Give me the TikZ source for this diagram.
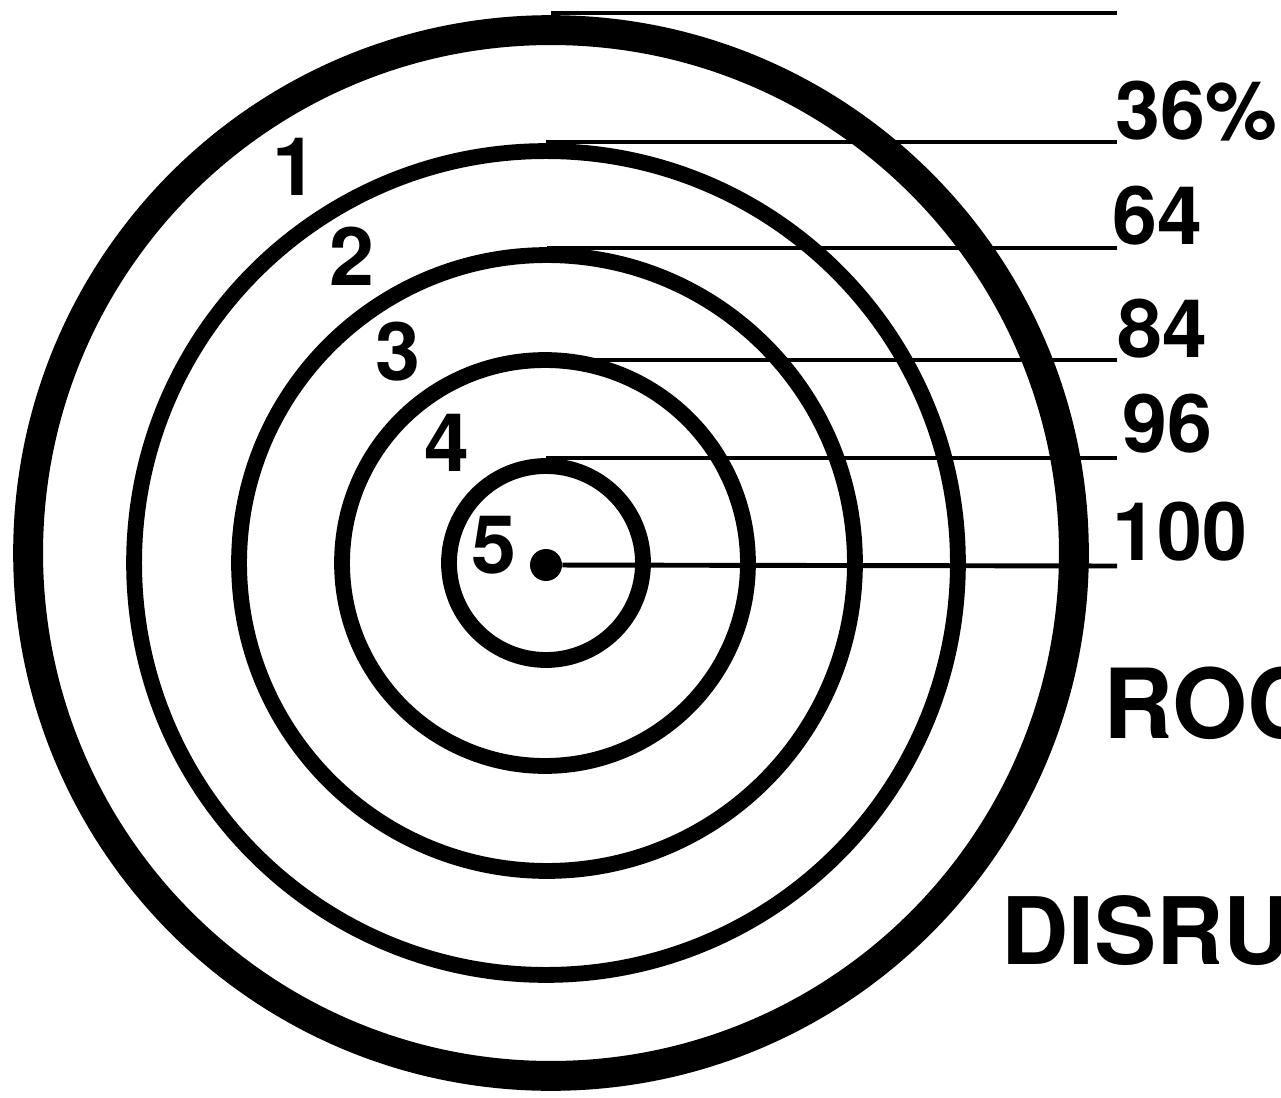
\documentclass[tikz,border=0pt]{standalone}
\usepackage{fontspec}
\setmainfont{TeX Gyre Heros}
\usepackage{tikz}
\usetikzlibrary{positioning}
\tikzstyle{ring} = [circle, draw=black, line width=9pt, inner sep=0pt]
\tikzstyle{rimring} = [ring, line width=17pt]
\tikzstyle{bullseye} = [circle, fill=black, inner sep=0pt, minimum size=0.64cm]
\tikzstyle{leader} = [line width=2.8pt, draw=black]
\tikzstyle{zonenum} = [inner sep=0pt, font=\fontsize{46}{46}\selectfont\bfseries]
\tikzstyle{pctlabel} = [zonenum, anchor=base west]
\tikzstyle{sidetitle} = [inner sep=0pt, anchor=base west, font=\fontsize{55}{55}\selectfont\bfseries]

\begin{document}
\begin{tikzpicture}[x=0.02cm, y=-0.02cm]
    \path [use as bounding box, fill=white] (0,0) rectangle (1281,1098);

    \node [rimring, minimum size=20.92cm] (rim) at (551,553) {};
    \node [ring, minimum size=16.48cm] (r1) at (546,563) {};
    \node [ring, minimum size=12.32cm] (r2) at (547,563) {};
    \node [ring, minimum size=8.12cm] (r3) at (545,563) {};
    \node [ring, minimum size=3.88cm] (r4) at (546,563) {};
    \node [bullseye] (bull) at (546,565) {};

    \coordinate (t0) at (1117,13);
    \coordinate (t1) at (1117,142);
    \coordinate (t2) at (1117,248);
    \coordinate (t3) at (1117,360);
    \coordinate (t4) at (1117,458);
    \coordinate (t5) at (1117,566);

    \draw [leader] (rim.north |- t0) -- (t0);
    \draw [leader] (r1.north |- t1) -- (t1);
    \draw [leader] (r2.north |- t2) -- (t2);
    \draw [leader] (r3.north |- t3) -- (t3);
    \draw [leader] (r4.north |- t4) -- (t4);
    \draw [leader] (bull) -- (t5);

    \node [zonenum] (n1) at (295,167) {1};
    \node [zonenum] (n2) at (352,256) {2};
    \node [zonenum] (n3) at (398,352) {3};
    \node [zonenum] (n4) at (447,443) {4};
    \node [zonenum] (n5) at (494,545) {5};

    \node [pctlabel] (p1) at (1115,140) {36\%};
    \node [pctlabel] (p2) at (1112,245) {64};
    \node [pctlabel] (p3) at (1117,357) {84};
    \node [pctlabel] (p4) at (1122,452) {96};
    \node [pctlabel] (p5) at (1112,560) {100};

    \node [sidetitle] (rock) at (1103,738) {ROC};
    \node [sidetitle, font=\fontsize{53}{53}\selectfont\bfseries] (disr) at (1001,964) {DISRU};
\end{tikzpicture}
\end{document}
